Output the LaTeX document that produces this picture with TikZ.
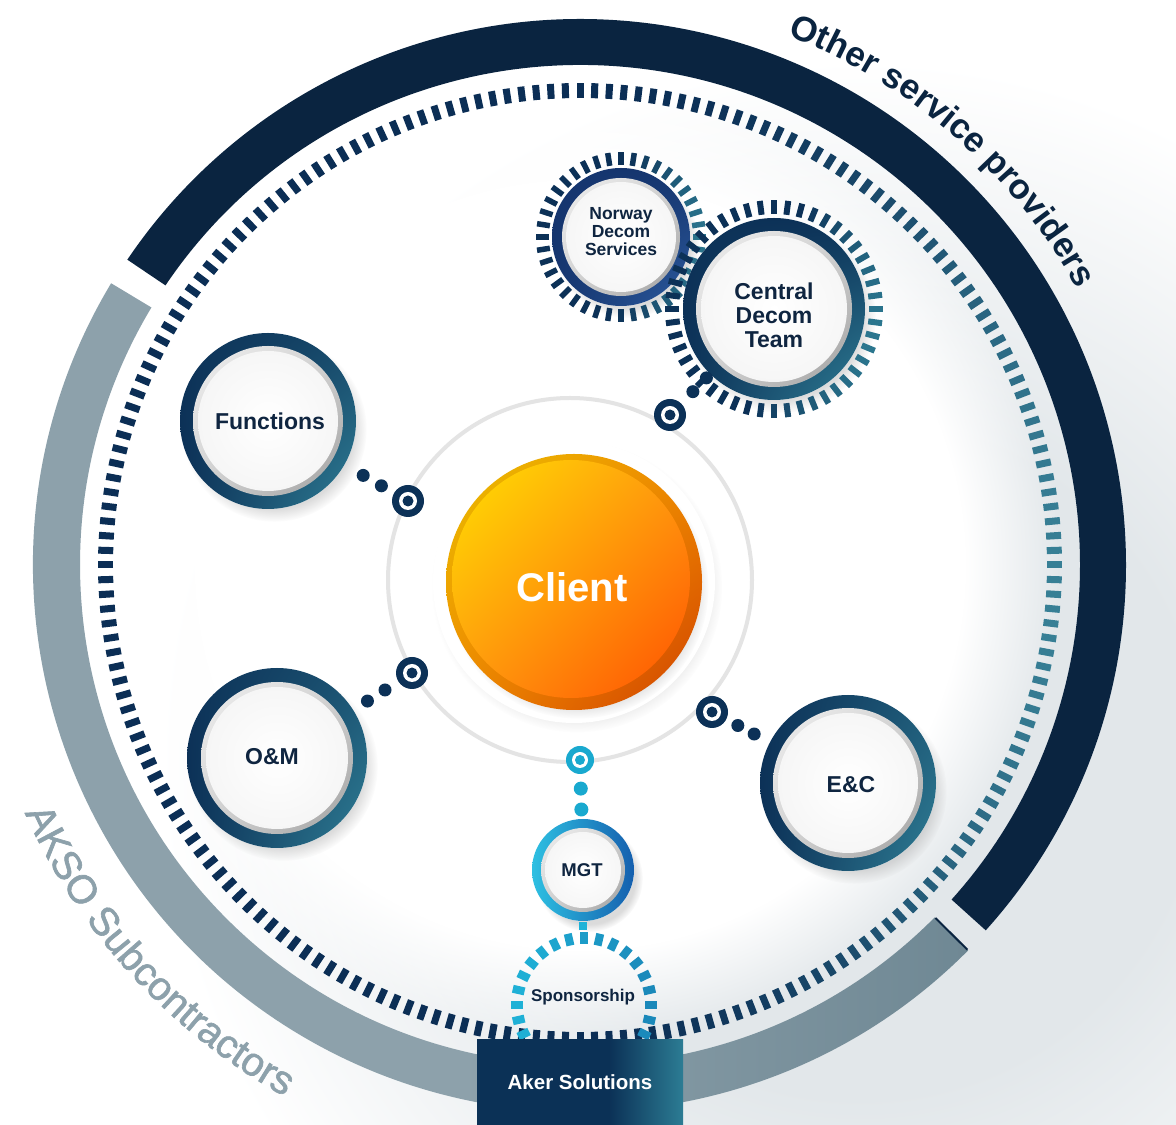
\documentclass[tikz,border=0pt]{standalone}
\usepackage{fontspec}
\setmainfont{Liberation Sans}
\newfontfamily\medfont{Liberation Sans}[FakeBold=1.5]
\usetikzlibrary{calc,shadows,shadings,fadings,decorations.text}
\definecolor{bandnavy}{HTML}{0A2440}
\definecolor{dashnavy}{HTML}{0B2E55}
\definecolor{dashteal}{HTML}{3A8499}
\definecolor{bandgray}{HTML}{8DA1AB}
\definecolor{bandgraydk}{HTML}{6F8894}
\definecolor{ringnavy}{HTML}{0C3157}
\definecolor{ringteal}{HTML}{2F7E95}
\definecolor{labnavy}{HTML}{0F2540}
\definecolor{shgray}{HTML}{E2E7EA}
\definecolor{cyanA}{HTML}{2EC0E2}
\definecolor{blueB}{HTML}{155FAE}
\definecolor{spcyan}{HTML}{1FB3D8}
\definecolor{spblue}{HTML}{1A86B8}
\definecolor{orbitgray}{HTML}{E4E4E4}
\definecolor{norwaynavy}{HTML}{15356E}
\definecolor{norwayblue}{HTML}{2C5A9E}
\definecolor{akerteal}{HTML}{2C7C94}
\definecolor{akernavy}{HTML}{0B3156}
\definecolor{cRimA}{HTML}{EAC000}
\definecolor{cRimB}{HTML}{F08A00}
\definecolor{cRimC}{HTML}{D04000}
\definecolor{cFaceA}{HTML}{FFE000}
\definecolor{cFaceB}{HTML}{FF9A10}
\definecolor{cFaceC}{HTML}{FF5000}
\definecolor{mknobc}{HTML}{19A9CF}
\pgfdeclareradialshading{bgshadow}{\pgfpointorigin}{color(0bp)=(shgray); color(12bp)=(shgray); color(25bp)=(white); color(50bp)=(white)}
\pgfdeclarehorizontalshading{akershade}{100bp}{color(0bp)=(akernavy); color(25bp)=(akernavy); color(57bp)=(akernavy); color(75bp)=(akerteal); color(100bp)=(akerteal)}
\newcommand\ospfont{\fontsize{35}{35}\selectfont\bfseries\color{bandnavy}}
\newcommand\aksofont{\fontsize{40}{40}\selectfont\medfont\color{bandgray}}
% #1 centre, #2 outer R, #3 silver R, #4 white R, #5-#8 corner colours UL UR LL LR
\newcommand\satdisk[8]{%
  \fill[white, circular drop shadow={shadow xshift=6pt, shadow yshift=-8pt, opacity=0.28, shadow scale=1.05}] (#1) circle (#2);
  \shade[upper left=#5, upper right=#6, lower left=#7, lower right=#8] (#1) circle (#2);
  \shade[upper left=gray!12, upper right=gray!35, lower left=gray!35, lower right=gray!75] (#1) circle (#3);
  \shade[inner color=white, outer color=gray!7] (#1) circle (#4);
}
\begin{document}
\begin{tikzpicture}[x=1pt,y=1pt,
  lbl/.style={font=\bfseries\fontsize{23}{25}\selectfont, text=labnavy, align=center, inner sep=0pt},
  knob/.style={circle, fill=ringnavy, minimum size=32pt, inner sep=0pt,
     path picture={\fill[white] (path picture bounding box.center) circle (9);
                   \fill[ringnavy] (path picture bounding box.center) circle (5.5);}},
  mknob/.style={circle, fill=mknobc, minimum size=28pt, inner sep=0pt,
     path picture={\fill[white] (path picture bounding box.center) circle (8);
                   \fill[mknobc] (path picture bounding box.center) circle (5);}},
  dotc/.style={fill=ringnavy},
  mdotc/.style={fill=mknobc}]
\useasboundingbox (0,0) rectangle (1176,1125);
\fill[white] (0,0) rectangle (1176,1125);
\begin{scope}
  \clip (0,0) rectangle (1176,1125);
  \shade[shading=bgshadow] (860,365) circle (700);
\end{scope}
\coordinate (C0) at (580,560);
\fill[white, path fading=circle with fuzzy edge 20 percent] (C0) circle (480);

% outer bands
\shade[left color=bandgray, right color=bandgraydk, middle color=bandgray]
  ($(C0)+(149:547)$) arc[start angle=149, end angle=315.2, radius=547]
  -- ($(C0)+(315.2:500)$) arc[start angle=315.2, end angle=149, radius=500] -- cycle;
\draw[bandnavy, line width=2pt] ($(C0)+(315.2:501)$) -- ($(C0)+(315.2:546)$);
\fill[bandnavy]
  ($(C0)+(-42:546)$) arc[start angle=-42, end angle=146, radius=546]
  -- ($(C0)+(146:500)$) arc[start angle=146, end angle=-42, radius=500] -- cycle;

% main dashed ring
\foreach \i in {0,...,203}{
  \pgfmathsetmacro\ang{\i*1.7647059}
  \pgfmathsetmacro\gc{max(0,cos(\ang+3))}
  \pgfmathtruncatemacro\gmix{95*\gc*\gc}
  \draw[line width=7pt, color=dashteal!\gmix!dashnavy] ($(C0)+(\ang:467)$) -- ($(C0)+(\ang:482)$);
}

% arc texts
\path[decorate, decoration={text along path, text={|\ospfont|Other service providers}, text align=center}]
  ($(C0)+(98.8:569)$) arc[start angle=98.8, end angle=-1.2, radius=569];
\path[decorate, decoration={text along path, text={|\aksofont|AKSO Subcontractors}, text align=center}]
  ($(C0)+(182.5:608)$) arc[start angle=182.5, end angle=262.5, radius=608];

% orbit
\coordinate (orb) at (570,545);
\draw[orbitgray, line width=4pt] (orb) circle (182);

% client
\coordinate (clientC) at (574,543);
\fill[white, circular drop shadow={shadow xshift=3pt, shadow yshift=-5pt, opacity=0.22, shadow scale=1.03}] (clientC) circle (141);
\shade[upper left=cRimA, upper right=cRimB, lower left=cRimB, lower right=cRimC,
  circular drop shadow={shadow xshift=4pt, shadow yshift=-6pt, opacity=0.35, shadow scale=1.02}] (clientC) circle (128);
\shade[upper left=cFaceA, upper right=cFaceB, lower left=cFaceB, lower right=cFaceC] ($(clientC)+(-3,3)$) circle (119);
\node[font=\bfseries\fontsize{40}{40}\selectfont, text=white, inner sep=0pt] (client) at (572,538) {Client};

% satellites
\coordinate (funcC) at (268,704);
\coordinate (omC) at (277,367);
\coordinate (ecC) at (848,342);
\coordinate (cdtC) at (774,816);
\coordinate (ndsC) at (621,888);
\coordinate (mgtC) at (583,255);
\coordinate (spC) at (584,120);

\satdisk{funcC}{88}{75}{70}{ringnavy}{ringnavy!70!ringteal}{ringnavy}{ringteal}
\satdisk{omC}{90}{76}{71}{ringnavy}{ringnavy!55!ringteal}{ringnavy}{ringteal}
\satdisk{ecC}{88}{75}{70}{ringnavy}{ringnavy!45!ringteal}{ringnavy}{ringteal}

% Norway
\satdisk{ndsC}{69}{59}{55}{norwaynavy}{norwaynavy}{norwaynavy}{norwayblue}
\foreach \i in {1,...,40}{
  \pgfmathsetmacro\ang{\i*9}
  \pgfmathsetmacro\gc{max(0,cos(\ang+5))}
  \pgfmathtruncatemacro\gmix{85*\gc}
  \draw[line width=5.5pt, color=ringteal!\gmix!ringnavy] ($(ndsC)+(\ang:72)$) -- ($(ndsC)+(\ang:85)$);
}
% Central
\satdisk{cdtC}{91}{78}{73}{ringnavy}{ringnavy}{ringnavy}{ringteal}
\foreach \i in {1,...,48}{
  \pgfmathsetmacro\ang{\i*7.5}
  \pgfmathsetmacro\gc{max(0,cos(\ang+15))}
  \pgfmathtruncatemacro\gmix{90*\gc}
  \draw[line width=6pt, color=ringteal!\gmix!ringnavy] ($(cdtC)+(\ang:95)$) -- ($(cdtC)+(\ang:109)$);
}

% MGT
\satdisk{mgtC}{51}{42}{38}{cyanA}{blueB}{cyanA}{blueB}

% Sponsorship dashed ring
\foreach \i in {0,...,27}{
  \pgfmathsetmacro\ang{\i*12.857143}
  \pgfmathtruncatemacro\gmix{50+45*cos(\ang)}
  \draw[line width=8pt, color=spblue!\gmix!spcyan] ($(spC)+(\ang:61)$) -- ($(spC)+(\ang:73)$);
}
\draw[line width=8pt, color=spcyan] ($(mgtC)+(0,-52)$) -- ($(mgtC)+(0,-60)$);

% labels
\node[lbl] (func) at (270,704) {Functions};
\node[lbl] (om) at (272,368) {O\&M};
\node[lbl] (ec) at (851,340) {E\&C};
\node[lbl, font=\bfseries\fontsize{23}{24}\selectfont] (cdt) at (774,810) {Central\\Decom\\Team};
\node[lbl, font=\bfseries\fontsize{17.5}{18}\selectfont] (nds) at (621,893) {Norway\\Decom\\Services};
\node[lbl, font=\bfseries\fontsize{18.5}{20}\selectfont] (mgt) at (582,255) {MGT};
\node[lbl, font=\bfseries\fontsize{17}{18}\selectfont] (sp) at (583,128) {Sponsorship};

% knobs and dotted connectors
\node[knob] (fk) at (408,624) {};
\node[knob] (ok) at (412,452) {};
\node[knob] (ck) at (670,710) {};
\node[knob] (ek) at (712,413) {};
\node[mknob] (mk) at (580,365) {};
\fill[dotc] ($(fk)!0.19!(funcC)$) circle (6.5);
\fill[dotc] ($(fk)!0.32!(funcC)$) circle (6.5);
\fill[dotc] ($(ok)!0.20!(omC)$) circle (6.5);
\fill[dotc] ($(ok)!0.33!(omC)$) circle (6.5);
\fill[dotc] ($(ck)!0.22!(cdtC)$) circle (6.5);
\fill[dotc] ($(ck)!0.35!(cdtC)$) circle (6.5);
\fill[dotc] ($(ek)!0.19!(ecC)$) circle (6.5);
\fill[dotc] ($(ek)!0.31!(ecC)$) circle (6.5);
\fill[mdotc] ($(mk)!0.26!(mgtC)$) circle (7);
\fill[mdotc] ($(mk)!0.45!(mgtC)$) circle (7);

% Aker Solutions box
\node[shade, shading=akershade, minimum width=206pt, minimum height=85pt, inner sep=0pt,
  text=white, font=\bfseries\fontsize{20.5}{22}\selectfont] (aker) at (580,42.5) {Aker Solutions};
\end{tikzpicture}
\end{document}
